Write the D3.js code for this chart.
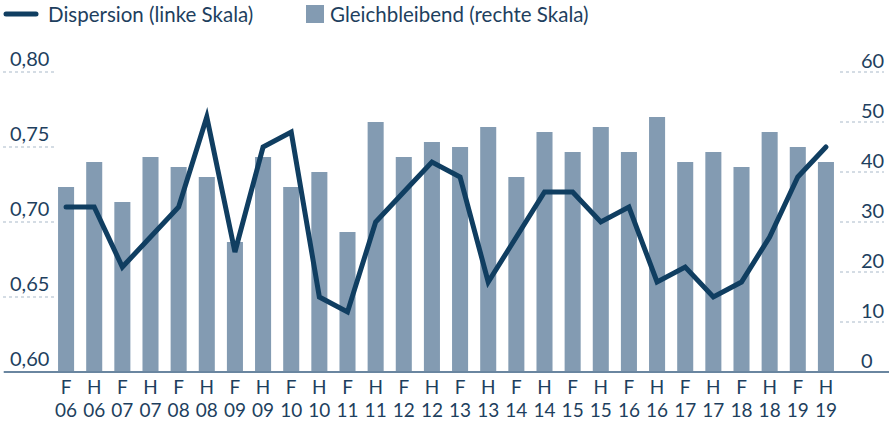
<!DOCTYPE html>
<html><head><meta charset="utf-8">
<script src="https://cdn.jsdelivr.net/npm/d3@7/dist/d3.min.js"></script>
<style>
html,body{margin:0;padding:0;background:#fff;}
svg{display:block;font-family:Lato,"Noto Sans",sans-serif;}
</style></head>
<body>
<svg id="chart" width="889" height="422"></svg>
<script>
const halves = ["F","H","F","H","F","H","F","H","F","H","F","H","F","H","F","H","F","H","F","H","F","H","F","H","F","H","F","H"];
const years = ["06","06","07","07","08","08","09","09","10","10","11","11","12","12","13","13","14","14","15","15","16","16","17","17","18","18","19","19"];
const gleichbleibend = [37,42,34,43,41,39,26,43,37,40,28,50,43,46,45,49,39,48,44,49,44,51,42,44,41,48,45,42];
const dispersion = [0.71,0.71,0.67,0.69,0.71,0.77,0.68,0.75,0.76,0.65,0.64,0.70,0.72,0.74,0.73,0.66,0.69,0.72,0.72,0.70,0.71,0.66,0.67,0.65,0.66,0.69,0.73,0.75];
const leftTicks = [0.60,0.65,0.70,0.75,0.80];
const rightTicks = [0,10,20,30,40,50,60];
const legendLabels = ["Dispersion (linke Skala)","Gleichbleibend (rechte Skala)"];

const lineColor = "#103e61", barColor = "#839bb2", textColor = "#1e3f5e", gridColor = "#a9b9c9";
const svg = d3.select("#chart");
const idx = d3.range(halves.length);
const x = d3.scaleBand().domain(idx).range([52, 840]).paddingInner(0.43).paddingOuter(0.215);
const yL = d3.scaleLinear().domain([0.60, 0.80]).range([372, 72]);
const yR = d3.scaleLinear().domain([0, 60]).range([372, 72]);
const fmt = d3.formatLocale({decimal:",",thousands:".",grouping:[3],currency:["","€"]}).format(".2f");

// left grid stubs + labels
const gL = svg.append("g");
gL.selectAll("line").data(leftTicks).join("line")
  .attr("x1",3).attr("x2",54).attr("y1",d=>yL(d)).attr("y2",d=>yL(d))
  .attr("stroke",gridColor).attr("stroke-width",1).attr("stroke-dasharray","3,3");
gL.selectAll("text").data(leftTicks).join("text")
  .attr("x",10).attr("y",d=>yL(d)-6).attr("fill",textColor).attr("font-size",20)
  .text(d=>fmt(d));

// right grid stubs + labels
const gR = svg.append("g");
gR.selectAll("line").data(rightTicks).join("line")
  .attr("x1",840).attr("x2",884).attr("y1",d=>yR(d)).attr("y2",d=>yR(d))
  .attr("stroke",gridColor).attr("stroke-width",1).attr("stroke-dasharray","3,3");
gR.selectAll("text").data(rightTicks).join("text")
  .attr("x",861).attr("y",d=>yR(d)-4).attr("fill",textColor).attr("font-size",20)
  .text(d=>d);

// bars
svg.append("g").selectAll("rect").data(gleichbleibend).join("rect")
  .attr("x",(d,i)=>x(i)).attr("width",x.bandwidth())
  .attr("y",d=>yR(d)).attr("height",d=>yR(0)-yR(d)).attr("fill",barColor);

// baseline
svg.append("line").attr("x1",4).attr("x2",889).attr("y1",372).attr("y2",372)
  .attr("stroke","#6a86a0").attr("stroke-width",2);

// line
const line = d3.line().x((d,i)=>x(i)+x.bandwidth()/2).y(d=>yL(d));
svg.append("path").datum(dispersion).attr("d",line).attr("fill","none")
  .attr("stroke",lineColor).attr("stroke-width",5)
  .attr("stroke-linejoin","miter").attr("stroke-linecap","round");

// x labels
const gx = svg.append("g").attr("fill",textColor).attr("font-size",19).attr("text-anchor","middle");
gx.selectAll("text.h").data(halves).join("text").attr("class","h")
  .attr("x",(d,i)=>x(i)+x.bandwidth()/2).attr("y",394).text(d=>d);
gx.selectAll("text.y").data(years).join("text").attr("class","y")
  .attr("x",(d,i)=>x(i)+x.bandwidth()/2).attr("y",417).text(d=>d);

// legend
const lg = svg.append("g").attr("fill",textColor).attr("font-size",20.5);
lg.append("line").attr("x1",6).attr("x2",36).attr("y1",14).attr("y2",14)
  .attr("stroke",lineColor).attr("stroke-width",5).attr("stroke-linecap","round");
lg.append("text").attr("x",48).attr("y",22).text(legendLabels[0]);
lg.append("rect").attr("x",306).attr("y",5).attr("width",18).attr("height",18).attr("fill",barColor);
lg.append("text").attr("x",330).attr("y",22).text(legendLabels[1]);
</script>
</body></html>
